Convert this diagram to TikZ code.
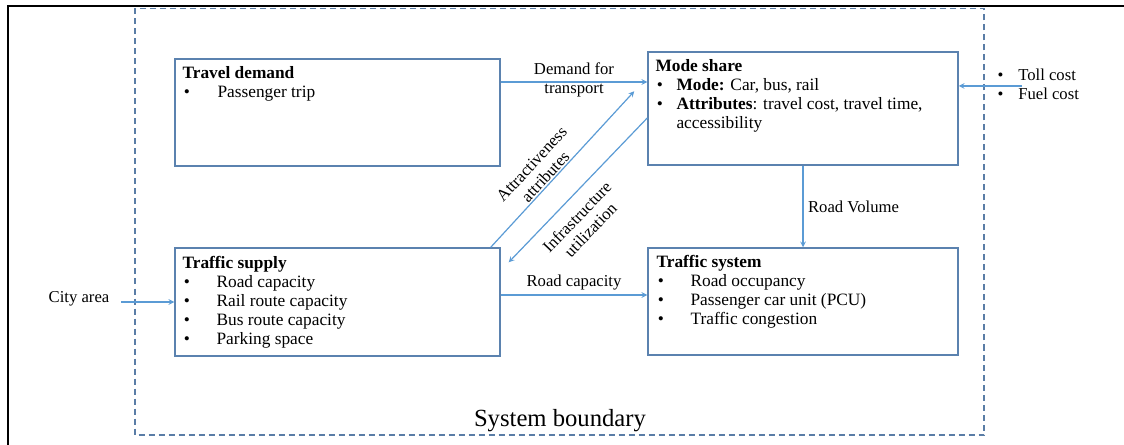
\documentclass[tikz,border=0pt]{standalone}
\usepackage{fontspec}
\setmainfont{Liberation Serif}
\definecolor{boxblue}{HTML}{5B82AF}
\definecolor{arrblue}{HTML}{5B9BD5}
\definecolor{bndblue}{HTML}{5A7DA6}
\newcommand{\lbul}[1][25.5pt]{\makebox[#1][l]{\hspace{1pt}\textbullet}}
\begin{document}
\begin{tikzpicture}[>=stealth, x=0.75pt, y=-0.75pt,
    box/.style 2 args={draw=boxblue, line width=1.1pt, minimum width=#1*0.75pt, minimum height=#2*0.75pt, inner sep=0pt},
    boxtext/.style={anchor=north west, inner sep=0pt, align=left, font=\fontsize{13}{14.2}\selectfont},
    lbl/.style={font=\fontsize{12.5}{14}\selectfont, align=center},
    arr/.style={draw=arrblue, line width=0.9pt, ->}]
\useasboundingbox (0,0) rectangle (1124,445);
\draw[line width=1.5pt](1124,6)--(8,6)--(8,445);
\draw[bndblue, line width=1pt, dash pattern=on 4.5pt off 3pt](135,8.5) rectangle (984,435);
\node(bound) at (560,421)[font=\fontsize{18.5}{22}\selectfont, inner sep=0pt]{System boundary};

\node[box={325}{107}](td) at (337.5,112.5){};
\node[box={310}{113}](ms) at (803,108.5){};
\node[box={325}{108}](ts) at (337.5,302){};
\node[box={310}{107}](tsys) at (803,301.5){};

\node[boxtext](tdtext) at ([shift={(8,8)}]td.north west){\textbf{Travel demand}\\ \lbul[26.25pt]Passenger trip};
\node[boxtext](mstext) at ([shift={(8,8)}]ms.north west){\textbf{Mode share}\\
    \lbul[15.75pt]\textbf{Mode:} Car, bus, rail\\
    \lbul[15.75pt]\textbf{Attributes}: travel cost, travel time,\\
    \hspace*{15.75pt}accessibility};
\node[boxtext](tstext) at ([shift={(8,9)}]ts.north west){\textbf{Traffic supply}\\
    \lbul Road capacity\\ \lbul Rail route capacity\\ \lbul Bus route capacity\\ \lbul Parking space};
\node[boxtext](tsystext) at ([shift={(9,8)}]tsys.north west){\textbf{Traffic system}\\
    \lbul Road occupancy\\ \lbul Passenger car unit (PCU)\\ \lbul Traffic congestion};

\node[lbl](city) at (79,299){City area};
\node[lbl, anchor=west, align=left, inner sep=0pt](toll) at (996,84){\lbul[16.5pt]Toll cost\\ \lbul[16.5pt]Fuel cost};
\coordinate(tollin) at ([shift={(26,2)}]toll.west);

\draw[arr](td.east |- 0,82)--(ms.west |- 0,82)node[lbl, midway, yshift=1.5pt]{Demand for\\transport};
\draw[arr]([shift={(-10,0)}]ts.north east)--([shift={(-13,40)}]ms.north west)node[lbl, pos=.42, sloped, above, inner sep=1pt]{Attractiveness\\attributes};
\draw[arr]([shift={(0,9.5)}]ms.west)--([shift={(8,15)}]ts.north east)node[lbl, pos=.6, sloped, below=5pt]{Infrastructure\\utilization};
\draw[arr](ms.south)--(tsys.north)node[lbl, midway, right]{Road Volume};
\draw[arr](ts.east |- 0,295)--(tsys.west |- 0,295)node[lbl, midway, above]{Road capacity};
\draw[arr](city.east |- ts.west) ++(7,0)--(ts.west);
\draw[arr](tollin)--(tollin -| ms.east);

\end{tikzpicture}
\end{document}
